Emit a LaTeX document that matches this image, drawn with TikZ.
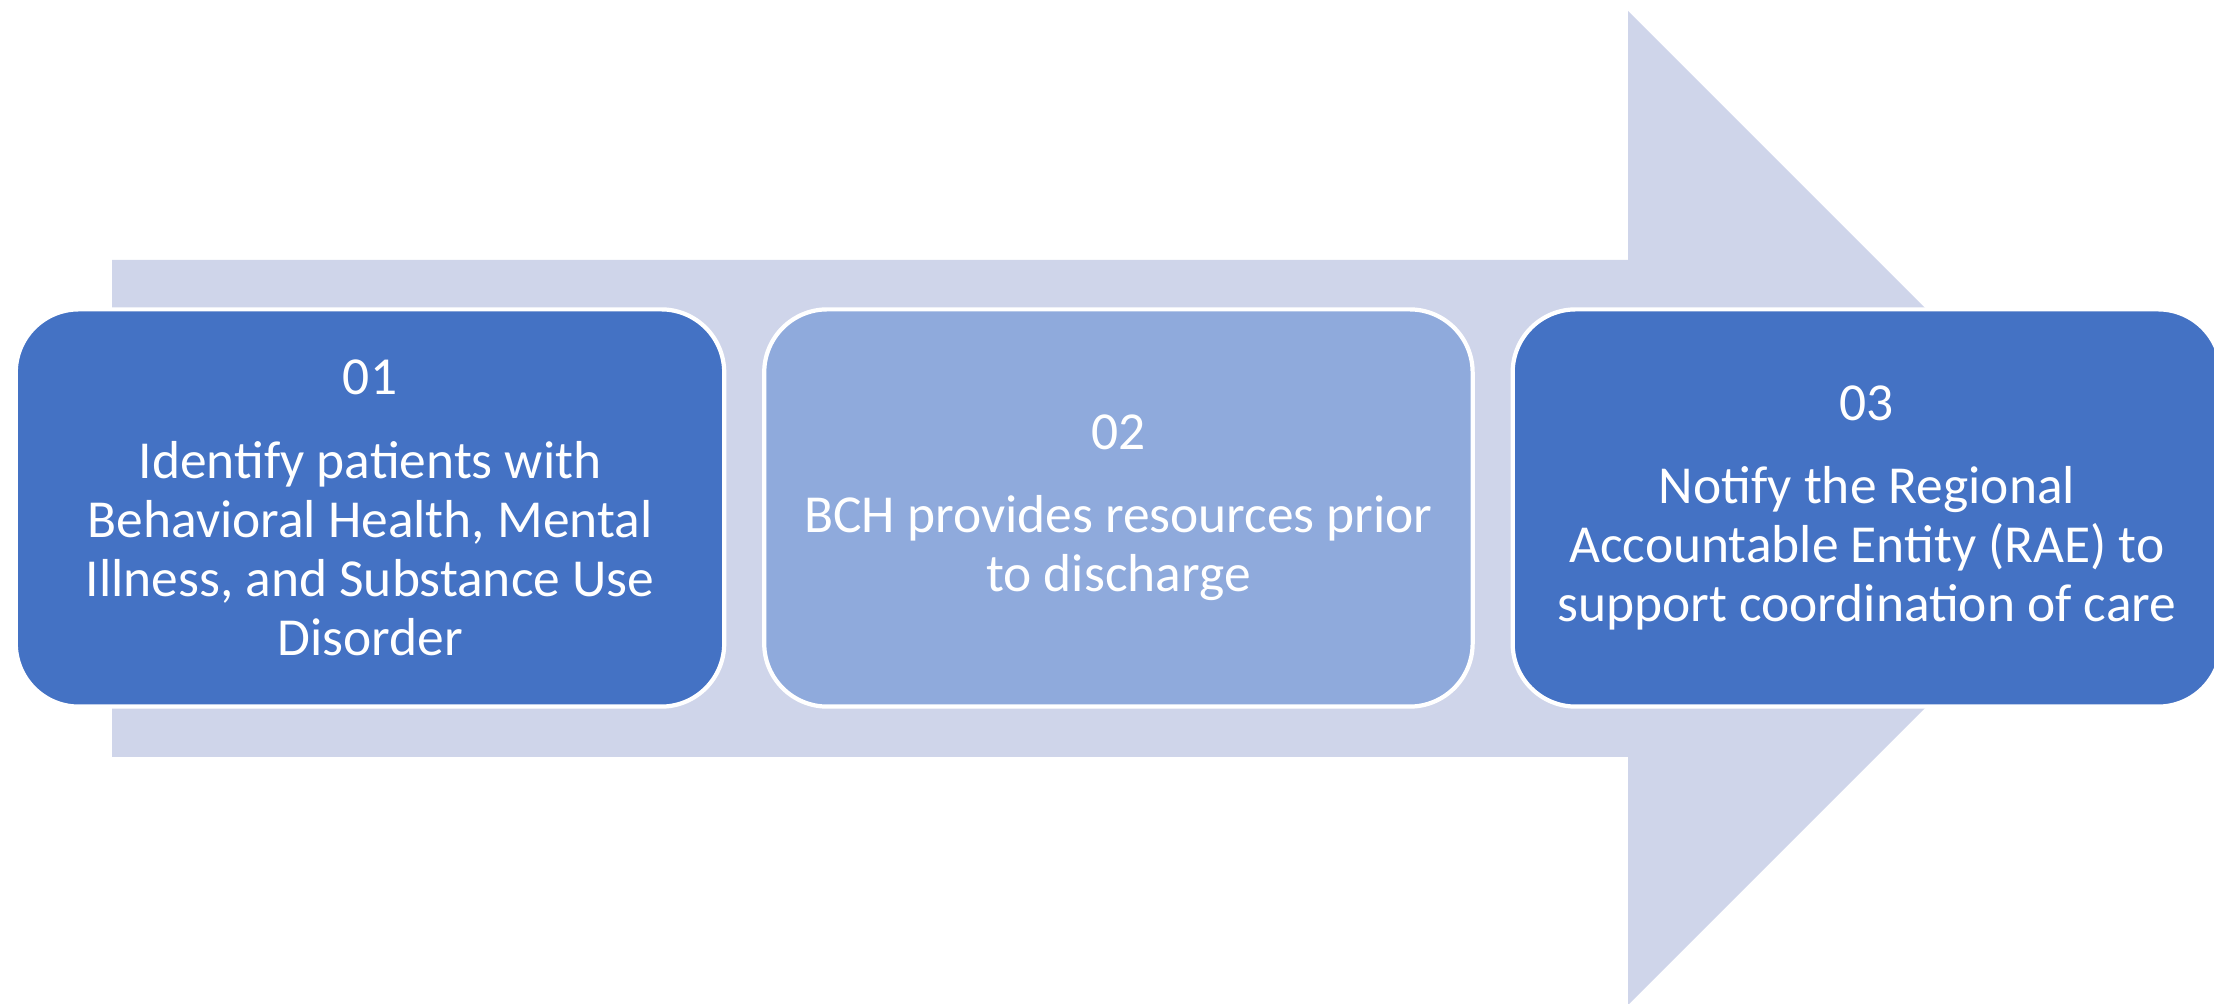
\documentclass[tikz,border=0pt]{standalone}
\usepackage{fontspec}
\setmainfont{Carlito}
\usetikzlibrary{shapes}
\usetikzlibrary{calc,positioning}
\definecolor{darkblue}{HTML}{4472C4}
\definecolor{lightblue}{HTML}{8FAADC}
\definecolor{paleblue}{HTML}{CFD5EA}

\begin{document}
\begin{tikzpicture}[x=0.01cm, y=-0.01cm, stage/.style = {rectangle, draw=white, line width=1.2pt, rounded corners=0.63cm, minimum width=7.08cm, minimum height=3.97cm, align=center, text=white, font=\fontsize{15.2}{16.8}\selectfont, inner sep=0}, node distance=7.48cm]

\clip (0,0) rectangle (2214,1004);
\useasboundingbox (0,0) rectangle (2214,1004);

\fill[paleblue] (112,260) -- (1628,260) -- (1628,11) -- (2125,508) -- (1628,1005) -- (1628,757) -- (112,757) -- cycle;

\node[stage, fill=darkblue](s1) at (370,508){01\\[0.24cm]Identify patients with\\Behavioral Health, Mental\\Illness, and Substance Use\\Disorder};
\node[stage, fill=lightblue, right of=s1](s2){02\\[0.24cm]BCH provides resources prior\\to discharge};
\node[stage, fill=darkblue, right of=s2](s3){03\\[0.24cm]Notify the Regional\\Accountable Entity (RAE) to\\support coordination of care};

\end{tikzpicture}
\end{document}
